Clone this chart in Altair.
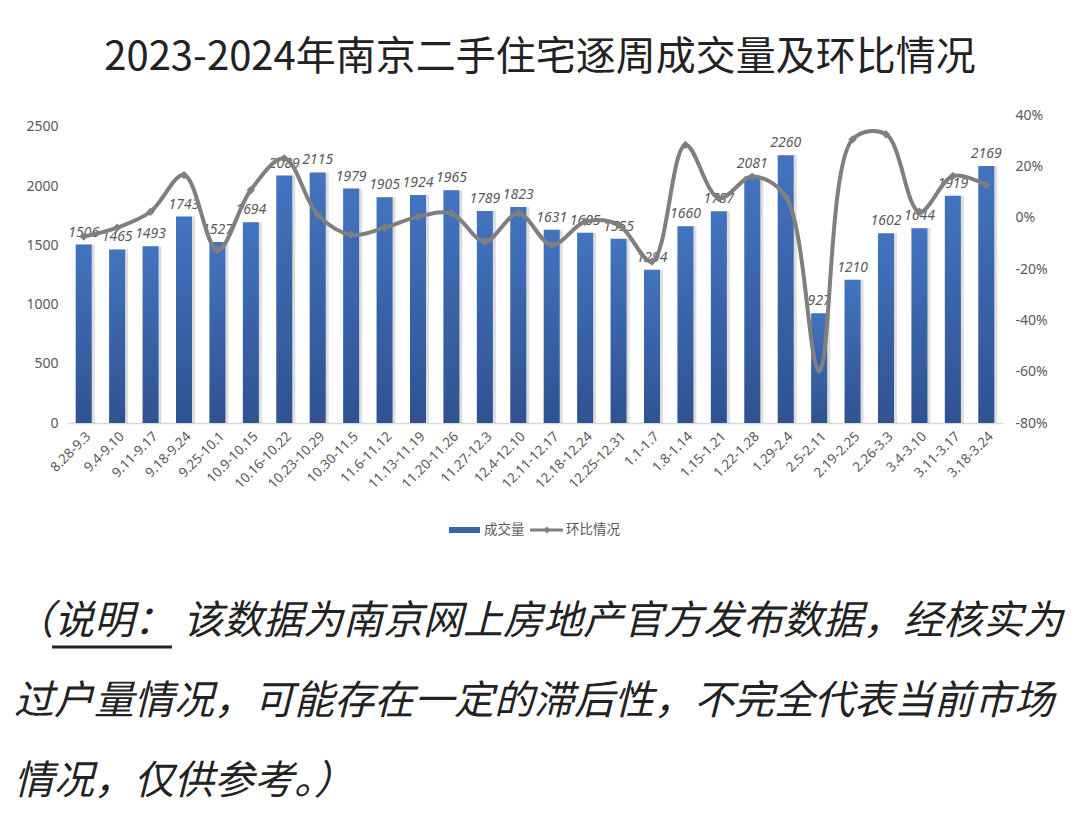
import altair as alt
import pandas as pd

categories = ["8.28-9.3", "9.4-9.10", "9.11-9.17", "9.18-9.24", "9.25-10.1", "10.9-10.15",
              "10.16-10.22", "10.23-10.29", "10.30-11.5", "11.6-11.12", "11.13-11.19",
              "11.20-11.26", "11.27-12.3", "12.4-12.10", "12.11-12.17", "12.18-12.24",
              "12.25-12.31", "1.1-1.7", "1.8-1.14", "1.15-1.21", "1.22-1.28", "1.29-2.4",
              "2.5-2.11", "2.19-2.25", "2.26-3.3", "3.4-3.10", "3.11-3.17", "3.18-3.24"]
volumes = [1506, 1465, 1493, 1743, 1527, 1694, 2089, 2115, 1979, 1905, 1924, 1965, 1789, 1823,
           1631, 1605, 1555, 1294, 1660, 1787, 2081, 2260, 927, 1210, 1602, 1644, 1919, 2169]
change_pct = [-7.4, -3.9, 2.3, 16.6, -12.6, 10.8, 23.1, 1.1, -6.7, -3.9, 0.4, 1.7, -9.3, 1.7,
              -10.6, -1.6, -2.8, -17.1, 28.3, 7.6, 16.0, 8.2, -59.3, 30.5, 32.5, 2.3, 16.2, 12.7]

title_text = "2023-2024年南京二手住宅逐周成交量及环比情况"
legend_labels = ["成交量", "环比情况"]
note_lines = ["（说明： 该数据为南京网上房地产官方发布数据，经核实为",
              "过户量情况，可能存在一定的滞后性，不完全代表当前市场",
              "情况，仅供参考。）"]

df = pd.DataFrame({"week": categories, "volume": volumes, "pct": change_pct})

W, H = 936, 308
GRAY = "#595959"
LINE_GRAY = "#7f7f7f"
CJK = "Noto Sans CJK SC"

x_enc = alt.X("week:N", sort=None,
              scale=alt.Scale(paddingInner=0.52, paddingOuter=0.26),
              axis=alt.Axis(title=None, labelAngle=-45, labelAlign="right", labelBaseline="top",
                            labelFontSize=13.5, labelColor=GRAY, labelFont="Noto Sans",
                            ticks=False, domainColor="#d9d9d9", domainWidth=1.5,
                            labelPadding=6, labelOverlap=False))

y_left = alt.Y("volume:Q",
               scale=alt.Scale(domain=[0, 2500]),
               axis=alt.Axis(title=None, values=[0, 500, 1000, 1500, 2000, 2500], grid=False,
                             format="d", ticks=False, domain=False, labelFontSize=14,
                             labelColor=GRAY, labelFont="Noto Sans", labelPadding=9))

base = alt.Chart(df)

shadow = base.mark_bar(color="#000000", opacity=0.13, xOffset=3).encode(x=x_enc, y=y_left)

bars = base.mark_bar(
    color=alt.Gradient(gradient="linear",
                       stops=[alt.GradientStop(color="#4374c0", offset=0),
                              alt.GradientStop(color="#2f5290", offset=1)],
                       x1=0, x2=0, y1=0, y2=1)
).encode(x=x_enc, y=y_left)

bar_labels = base.mark_text(dy=-12, fontSize=14, fontStyle="italic", color=GRAY,
                            font="Noto Sans").encode(
    x=alt.X("week:N", sort=None), y=alt.Y("volume:Q"), text=alt.Text("volume:Q", format="d"))

y_right = alt.Y("pct:Q",
                scale=alt.Scale(domain=[-80, 40]),
                axis=alt.Axis(title=None, orient="right", values=[-80, -60, -40, -20, 0, 20, 40],
                              labelExpr="datum.value + '%'", grid=False, ticks=False, domain=False,
                              labelFontSize=14, labelColor=GRAY, labelFont="Noto Sans",
                              labelPadding=12))

line = base.mark_line(color=LINE_GRAY, strokeWidth=4, interpolate="catmull-rom").encode(
    x=alt.X("week:N", sort=None), y=y_right)
points = base.mark_point(shape="diamond", filled=True, size=70, color=LINE_GRAY, opacity=1).encode(
    x=alt.X("week:N", sort=None), y=alt.Y("pct:Q"))

one = alt.Data(values=[{"k": 0}])

leg_rect = alt.Chart(one).mark_rect(color="#3a63a8").encode(
    x=alt.value(382), x2=alt.value(413), y=alt.value(412), y2=alt.value(418))
leg_t1 = alt.Chart(one).mark_text(align="left", baseline="middle", fontSize=13.5, color=GRAY,
                                  font=CJK, text=legend_labels[0]).encode(
    x=alt.value(417), y=alt.value(415))
leg_rule = alt.Chart(one).mark_rule(color=LINE_GRAY, strokeWidth=3).encode(
    x=alt.value(463), x2=alt.value(496), y=alt.value(415))
leg_pt = alt.Chart(one).mark_point(shape="diamond", filled=True, size=50, color=LINE_GRAY,
                                   opacity=1).encode(x=alt.value(480), y=alt.value(415))
leg_t2 = alt.Chart(one).mark_text(align="left", baseline="middle", fontSize=13.5, color=GRAY,
                                  font=CJK, text=legend_labels[1]).encode(
    x=alt.value(499), y=alt.value(415))

notes = []
for i, txt in enumerate(note_lines):
    notes.append(alt.Chart(one).mark_text(align="left", baseline="middle", fontSize=40,
                                          fontStyle="italic", color="#222222", font=CJK,
                                          text=txt).encode(
        x=alt.value(-53), y=alt.value(507 + 80 * i)))
underline = alt.Chart(one).mark_rule(color="#222222", strokeWidth=3).encode(
    x=alt.value(-15), x2=alt.value(105), y=alt.value(532))

left_layer = alt.layer(shadow, bars, bar_labels)
right_layer = alt.layer(line, points)

chart = alt.layer(
    left_layer, right_layer, leg_rect, leg_t1, leg_rule, leg_pt, leg_t2, underline, *notes
).resolve_scale(y="independent").properties(
    width=W, height=H,
    title=alt.TitleParams(title_text, fontSize=40, font=CJK, color="#222222",
                          fontWeight="normal", anchor="middle", offset=30, dx=5),
    autosize=alt.AutoSizeParams(type="none"),
    padding={"left": 59, "top": 107, "right": 69, "bottom": 404},
).configure_view(stroke=None)

chart.save("out.html", embed_options={"renderer": "svg", "actions": False})
